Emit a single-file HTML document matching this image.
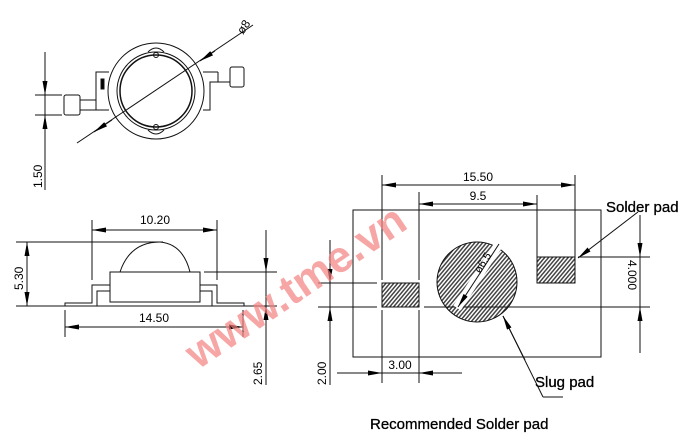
<!DOCTYPE html>
<html><head><style>html,body{margin:0;padding:0;background:#fff}svg{display:block}</style></head>
<body>
<svg width="697" height="447" viewBox="0 0 697 447" xmlns="http://www.w3.org/2000/svg" font-family="Liberation Sans, sans-serif">
<defs>
<marker id="a" viewBox="0 0 14 5" refX="14" refY="2.5" markerWidth="14" markerHeight="5" orient="auto-start-reverse" markerUnits="userSpaceOnUse"><path d="M0,0 L14,2.5 L0,5z" fill="#000"/></marker>
<pattern id="h" width="3" height="3" patternUnits="userSpaceOnUse" patternTransform="rotate(-50)"><rect width="3" height="3" fill="#fff"/><rect width="3" height="1.5" fill="#444"/></pattern>
</defs>
<g stroke="#111" stroke-width="1" fill="none">
<!-- top view -->
<circle cx="156" cy="91" r="48"/>
<circle cx="156" cy="91" r="39"/>
<circle cx="156" cy="91" r="36" stroke-width="1.5"/>
<path d="M148,52 Q156,44 164,52 M148,130 Q156,138 164,130"/>
<circle cx="156" cy="55" r="2.5"/><circle cx="156" cy="127" r="2.5"/>
<path d="M109,72 H96 V100 H82 M109,110 H96 V100"/>
<rect x="64" y="95" width="16" height="20" rx="2"/>
<path d="M80,100 H96 M80,110 H109"/>
<rect x="101" y="79" width="3" height="10" fill="#000"/>
<path d="M203,72 H218 M203,110 H210 V82 H230 M218,72 V82"/>
<rect x="230" y="67" width="14" height="20" rx="2"/>
<line x1="45" y1="52" x2="45" y2="190"/>
<line x1="35" y1="95" x2="62" y2="95"/><line x1="35" y1="115" x2="62" y2="115"/>
<line x1="45" y1="70" x2="45" y2="95" marker-end="url(#a)"/>
<line x1="45" y1="140" x2="45" y2="115" marker-end="url(#a)"/>
<line x1="77" y1="143" x2="253" y2="25"/>
<line x1="112" y1="120" x2="94" y2="132" marker-end="url(#a)"/>
<line x1="200" y1="61" x2="215" y2="51" marker-start="url(#a)"/>
<!-- side view -->
<line x1="16" y1="242" x2="163" y2="242"/>
<line x1="16" y1="306" x2="277" y2="306"/>
<line x1="27" y1="242" x2="27" y2="306" marker-start="url(#a)" marker-end="url(#a)"/>
<rect x="110" y="272" width="90" height="30"/>
<path d="M120,272 Q130,242 160,242"/>
<path d="M160,242 Q183,244 190,272"/>
<path d="M110,285 H92 V303 H65 V306 M110,291 H97 V306 M200,285 H217 V303 H244 V306 M200,291 H212 V306"/>
<line x1="92" y1="220" x2="92" y2="280"/><line x1="217" y1="220" x2="217" y2="280"/>
<line x1="92" y1="230" x2="217" y2="230" marker-start="url(#a)" marker-end="url(#a)"/>
<line x1="65" y1="310" x2="65" y2="337"/><line x1="243" y1="310" x2="243" y2="337"/>
<line x1="65" y1="327" x2="243" y2="327" marker-start="url(#a)" marker-end="url(#a)"/>
<line x1="204" y1="272" x2="277" y2="272"/>
<line x1="266" y1="230" x2="266" y2="385"/>
<line x1="266" y1="250" x2="266" y2="272" marker-end="url(#a)"/>
<line x1="266" y1="330" x2="266" y2="306" marker-end="url(#a)"/>
<!-- pad view -->
<rect x="353" y="210" width="248" height="147"/>
<circle cx="477" cy="282" r="40" fill="url(#h)"/>
<rect x="382" y="283" width="37" height="24" fill="url(#h)"/>
<rect x="537" y="257" width="38" height="26" fill="url(#h)"/>
<line x1="382" y1="175" x2="382" y2="280"/><line x1="382" y1="310" x2="382" y2="383"/>
<line x1="419" y1="192" x2="419" y2="280"/><line x1="419" y1="310" x2="419" y2="383"/>
<line x1="537" y1="195" x2="537" y2="257"/><line x1="575" y1="175" x2="575" y2="257"/>
<line x1="382" y1="185" x2="575" y2="185" marker-start="url(#a)" marker-end="url(#a)"/>
<line x1="419" y1="204" x2="537" y2="204" marker-start="url(#a)" marker-end="url(#a)"/>
<line x1="318" y1="307" x2="377" y2="307"/><line x1="424" y1="307" x2="650" y2="307"/>
<line x1="318" y1="283" x2="377" y2="283"/>
<line x1="578" y1="257" x2="650" y2="257"/>
<line x1="640" y1="215" x2="640" y2="353"/>
<line x1="640" y1="237" x2="640" y2="257" marker-end="url(#a)"/>
<line x1="640" y1="327" x2="640" y2="307" marker-end="url(#a)"/>
<line x1="330" y1="240" x2="330" y2="385"/>
<line x1="330" y1="263" x2="330" y2="283" marker-end="url(#a)"/>
<line x1="330" y1="330" x2="330" y2="307" marker-end="url(#a)"/>
<line x1="337" y1="373" x2="462" y2="373"/>
<line x1="357" y1="373" x2="382" y2="373" marker-end="url(#a)"/>
<line x1="444" y1="373" x2="419" y2="373" marker-end="url(#a)"/>
<line x1="499" y1="244" x2="457" y2="308" stroke="#fff" stroke-width="9"/>
<line x1="499" y1="244" x2="458" y2="307" marker-end="url(#a)"/>
<line x1="638" y1="212" x2="578" y2="258" marker-end="url(#a)"/>
<path d="M543,397 L503,316 M543,397 H563"/>
<line x1="525" y1="360" x2="503" y2="316" marker-end="url(#a)"/>
</g>
<g font-size="12" fill="#000">
<text x="155" y="224" text-anchor="middle">10.20</text>
<text x="154" y="322" text-anchor="middle">14.50</text>
<text x="478" y="181" text-anchor="middle">15.50</text>
<text x="478" y="200" text-anchor="middle">9.5</text>
<text x="400" y="369" text-anchor="middle">3.00</text>
<text transform="translate(42,188) rotate(-90)">1.50</text>
<text transform="translate(23,290) rotate(-90)">5.30</text>
<text transform="translate(262,385) rotate(-90)">2.65</text>
<text transform="translate(326,385) rotate(-90)">2.00</text>
<text transform="translate(628,260) rotate(90)">4.000</text>
<text transform="translate(243,35) rotate(-56)">ø8</text>
<text transform="translate(480,274) rotate(-58)" font-size="11">ø6.5</text>
</g>
<g font-size="15" fill="#000" stroke="#000" stroke-width="0.3">
<text x="606" y="212">Solder pad</text>
<text x="535" y="387">Slug pad</text>
<text x="370" y="429">Recommended Solder pad</text>
</g>
<text transform="translate(198,370) rotate(-34)" font-size="44" font-weight="bold" fill="#f48080" fill-opacity="0.7">www.tme.vn</text>
</svg>
</body></html>
